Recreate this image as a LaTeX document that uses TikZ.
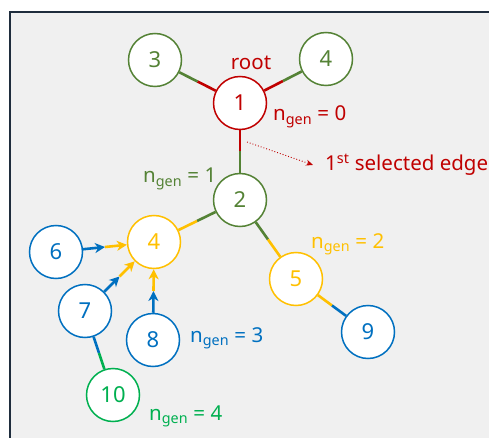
\documentclass[tikz,border=0pt]{standalone}
\usepackage{fontspec}
\setmainfont{Noto Sans}
\usetikzlibrary{arrows.meta,calc}
\definecolor{cred}{HTML}{C00000}
\definecolor{cgrn}{HTML}{548235}
\definecolor{cyel}{HTML}{FFC000}
\definecolor{cblu}{HTML}{0070C0}
\definecolor{cgr2}{HTML}{00B050}
\definecolor{bgc}{HTML}{F0F0F0}
\definecolor{bord}{HTML}{1F2D3D}
\tikzset{
  nd/.style={circle, draw, fill=white, minimum size=53pt, inner sep=0pt, line width=1.5pt, font=\fontsize{22}{22}\selectfont},
  ed/.style={line width=2.6pt},
  tip/.style={-{Stealth[length=10pt,width=10pt,inset=3pt]}},
  lbl/.style={font=\fontsize{20.5}{20.5}\selectfont, inner sep=0pt}
}
\newcommand{\ngen}[1]{n\textsubscript{gen} = #1}
\begin{document}
\begin{tikzpicture}[x=1pt,y=-1pt]
\useasboundingbox (0,0) rectangle (489,438);
\fill[white] (0,0) rectangle (489,438);
\fill[bgc] (10,12) rectangle (489,438);
\draw[bord, line width=1.3pt] (10,438) -- (10,12) -- (489,12);

% nodes
\node[nd, draw=cgrn, text=cgrn] (n3) at (155,60) {3};
\node[nd, draw=cgrn, text=cgrn] (n4t) at (326,59) {4};
\node[nd, draw=cred, text=cred] (n1) at (240,103) {1};
\node[nd, draw=cgrn, text=cgrn] (n2) at (240,200) {2};
\node[nd, draw=cyel, text=cyel] (y4) at (154,242) {4};
\node[nd, draw=cyel, text=cyel] (n5) at (296,279) {5};
\node[nd, draw=cblu, text=cblu] (n6) at (56,252) {6};
\node[nd, draw=cblu, text=cblu] (n7) at (85,311) {7};
\node[nd, draw=cblu, text=cblu] (n8) at (153,340) {8};
\node[nd, draw=cblu, text=cblu] (n9) at (368,332) {9};
\node[nd, draw=cgr2, text=cgr2] (n10) at (113,395) {10};

% two-tone edges
\path (n1) -- (n3) coordinate[pos=.5] (m13);
\draw[ed, cred] (n1) -- (m13); \draw[ed, cgrn] (m13) -- (n3);
\path (n1) -- (n4t) coordinate[pos=.5] (m14);
\draw[ed, cred] (n1) -- (m14); \draw[ed, cgrn] (m14) -- (n4t);
\path (n1) -- (n2) coordinate[pos=.5] (m12);
\draw[ed, cred] (n1) -- (m12); \draw[ed, cgrn] (m12) -- (n2);
\path (n2) -- (y4) coordinate[pos=.5] (m24);
\draw[ed, cgrn] (n2) -- (m24); \draw[ed, cyel] (m24) -- (y4);
\path (n2) -- (n5) coordinate[pos=.5] (m25);
\draw[ed, cgrn] (n2) -- (m25); \draw[ed, cyel] (m25) -- (n5);
\path (n5) -- (n9) coordinate[pos=.5] (m59);
\draw[ed, cyel] (n5) -- (m59); \draw[ed, cblu] (m59) -- (n9);
\path (n7) -- (n10) coordinate[pos=.5] (m710);
\draw[ed, cblu] (n7) -- (m710); \draw[ed, cgr2] (m710) -- (n10);

% arrow edges
\path (n6) -- (y4) coordinate[pos=.5] (m64);
\draw[ed, cblu, tip] (n6) -- (m64); \draw[ed, cyel, tip] (m64) -- (y4);
\path (n7) -- (y4) coordinate[pos=.5] (m74);
\draw[ed, cblu, tip] (n7) -- (m74); \draw[ed, cyel, tip] (m74) -- (y4);
\path (n8) -- (y4) coordinate[pos=.5] (m84);
\draw[ed, cblu, tip] (n8) -- (m84); \draw[ed, cyel, tip] (m84) -- (y4);

% labels
\node[lbl, text=cred] (root) at (251,63) {root};
\node[lbl, text=cred, anchor=base west] (g0) at (273,121) {\ngen{0}};
\node[lbl, text=cgrn, anchor=base west] (g1) at (143,183) {\ngen{1}};
\node[lbl, text=cyel, anchor=base west] (g2) at (311,248) {\ngen{2}};
\node[lbl, text=cblu, anchor=base west] (g3) at (190,342) {\ngen{3}};
\node[lbl, text=cgr2, anchor=base west] (g4) at (149,420) {\ngen{4}};
\node[lbl, text=cred, anchor=base west] (sel) at (325,171) {1\textsuperscript{st} selected edge};

\coordinate (ds) at (247,142);
\draw[cred, line width=0.9pt, dotted, -{Stealth[length=7pt,width=6pt]}] (ds) -- ([xshift=-12pt]sel.west);
\end{tikzpicture}
\end{document}
